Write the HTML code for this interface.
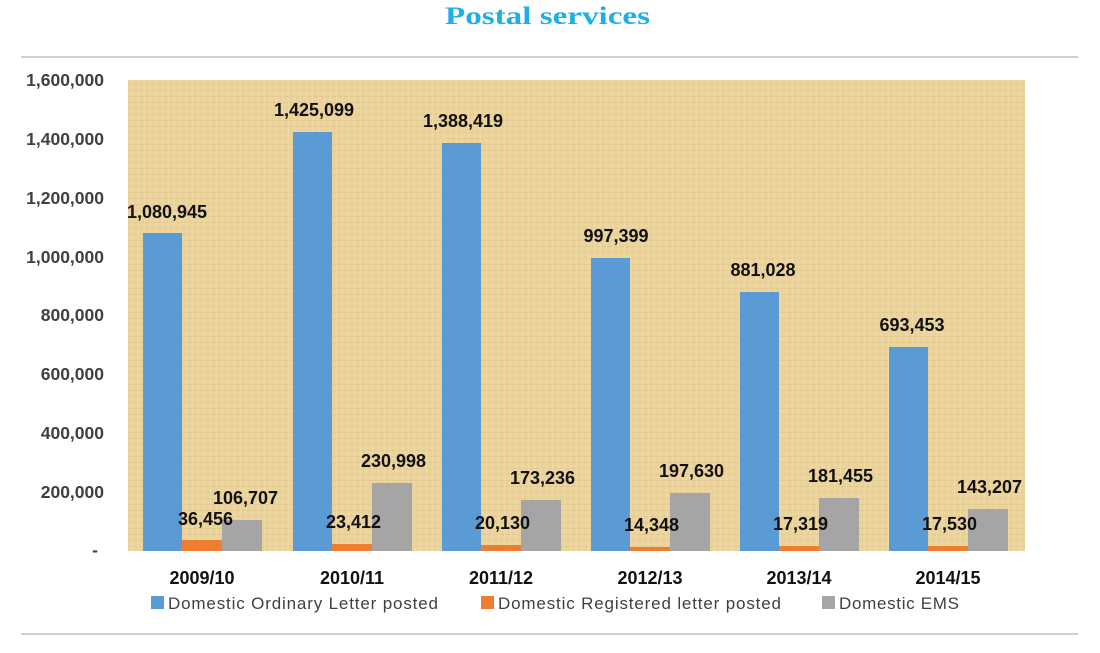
<!DOCTYPE html>
<html><head><style>
body{margin:0;width:1100px;height:648px;background:#fff;overflow:hidden;font-family:"Liberation Sans",sans-serif}
</style></head><body>
<svg width="1100" height="648" xmlns="http://www.w3.org/2000/svg">
<defs>
<pattern id="p" width="6" height="6" patternUnits="userSpaceOnUse">
<rect width="6" height="6" fill="#ebd39c"/>
<rect width="6" height="1" fill="#dfc083" opacity="0.5"/>
<rect width="1" height="6" fill="#f2dfae" opacity="0.6"/>
</pattern>
</defs>
<text x="445" y="24" textLength="205" lengthAdjust="spacingAndGlyphs" font-family="Liberation Serif,serif" font-weight="bold" font-size="25" fill="#1eaee8">Postal services</text>
<line x1="21" y1="57" x2="1078" y2="57" stroke="#d0d0d0" stroke-width="2"/>
<line x1="21" y1="634" x2="1078" y2="634" stroke="#d0d0d0" stroke-width="2"/>
<rect x="128" y="80" width="897" height="471" fill="url(#p)"/>
<g font-size="17.5" font-weight="bold" fill="#404040" text-anchor="end">
<text x="104" y="86">1,600,000</text>
<text x="104" y="145">1,400,000</text>
<text x="104" y="204">1,200,000</text>
<text x="104" y="263">1,000,000</text>
<text x="104" y="321">800,000</text>
<text x="104" y="380">600,000</text>
<text x="104" y="439">400,000</text>
<text x="104" y="498">200,000</text>
<text x="98" y="556">-</text>
</g>
<g font-size="18" font-weight="bold" fill="#111">
<rect x="143" y="233" width="39" height="318" fill="#5b9bd5"/>
<rect x="182" y="540" width="40" height="11" fill="#ed7d31"/>
<rect x="222" y="520" width="40" height="31" fill="#a5a5a5"/>
<text x="167" y="218" text-anchor="middle">1,080,945</text>
<text x="178" y="525">36,456</text>
<text x="213" y="504">106,707</text>
<text x="202" y="584" text-anchor="middle">2009/10</text>

<rect x="293" y="132" width="39" height="419" fill="#5b9bd5"/>
<rect x="332" y="544" width="40" height="7" fill="#ed7d31"/>
<rect x="372" y="483" width="40" height="68" fill="#a5a5a5"/>
<text x="314" y="116" text-anchor="middle">1,425,099</text>
<text x="326" y="528">23,412</text>
<text x="361" y="467">230,998</text>
<text x="352" y="584" text-anchor="middle">2010/11</text>

<rect x="442" y="143" width="39" height="408" fill="#5b9bd5"/>
<rect x="481" y="545" width="40" height="6" fill="#ed7d31"/>
<rect x="521" y="500" width="40" height="51" fill="#a5a5a5"/>
<text x="463" y="127" text-anchor="middle">1,388,419</text>
<text x="475" y="529">20,130</text>
<text x="510" y="484">173,236</text>
<text x="501" y="584" text-anchor="middle">2011/12</text>

<rect x="591" y="258" width="39" height="293" fill="#5b9bd5"/>
<rect x="630" y="547" width="40" height="4" fill="#ed7d31"/>
<rect x="670" y="493" width="40" height="58" fill="#a5a5a5"/>
<text x="616" y="242" text-anchor="middle">997,399</text>
<text x="624" y="531">14,348</text>
<text x="659" y="477">197,630</text>
<text x="650" y="584" text-anchor="middle">2012/13</text>

<rect x="740" y="292" width="39" height="259" fill="#5b9bd5"/>
<rect x="779" y="546" width="40" height="5" fill="#ed7d31"/>
<rect x="819" y="498" width="40" height="53" fill="#a5a5a5"/>
<text x="763" y="276" text-anchor="middle">881,028</text>
<text x="773" y="530">17,319</text>
<text x="808" y="482">181,455</text>
<text x="799" y="584" text-anchor="middle">2013/14</text>

<rect x="889" y="347" width="39" height="204" fill="#5b9bd5"/>
<rect x="928" y="546" width="40" height="5" fill="#ed7d31"/>
<rect x="968" y="509" width="40" height="42" fill="#a5a5a5"/>
<text x="912" y="331" text-anchor="middle">693,453</text>
<text x="922" y="530">17,530</text>
<text x="957" y="493">143,207</text>
<text x="948" y="584" text-anchor="middle">2014/15</text>
</g>
<g font-size="17" fill="#404040">
<rect x="151" y="596" width="13" height="13" fill="#5b9bd5"/>
<text x="168" y="609" textLength="270" lengthAdjust="spacing">Domestic Ordinary Letter posted</text>
<rect x="481" y="596" width="13" height="13" fill="#ed7d31"/>
<text x="498" y="609" textLength="283" lengthAdjust="spacing">Domestic Registered letter posted</text>
<rect x="822" y="596" width="13" height="13" fill="#a5a5a5"/>
<text x="839" y="609" textLength="120" lengthAdjust="spacing">Domestic EMS</text>
</g>
</svg>
</body></html>
